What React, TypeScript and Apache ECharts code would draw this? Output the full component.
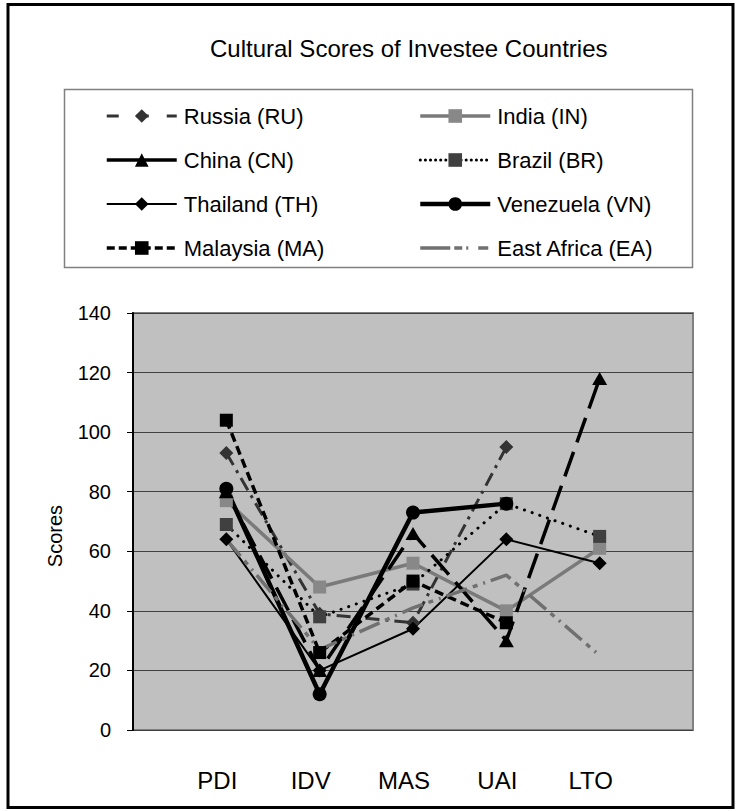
import React, { useEffect, useRef } from "react";
import * as echarts from "echarts";

const categories = ["PDI", "IDV", "MAS", "UAI", "LTO"];
const yMin = 0;
const yMax = 140;
const yStep = 20;

const russia = [93, 39, 36, 95, null];
const india = [77, 48, 56, 40, 61];
const china = [80, 20, 66, 30, 118];
const brazil = [69, 38, 49, 76, 65];
const thailand = [64, 20, 34, 64, 56];
const venezuela = [81, 12, 73, 76, null];
const malaysia = [104, 26, 50, 36, null];
const eastAfrica = [64, 27, 41, 52, 25];

const FONT = "'Liberation Sans', Arial, sans-serif";

function toPoints(vals: (number | null)[]) {
  const out: [number, number][] = [];
  vals.forEach((v, i) => {
    if (v !== null && v !== undefined) out.push([i + 1, v]);
  });
  return out;
}

type Sty = {
  name: string;
  data: (number | null)[];
  color: string;
  markerColor: string;
  width: number;
  type: any;
  legendType?: any;
  symbol: string;
  size: any;
  cap?: string;
};

const seriesDefs: Sty[] = [
  { name: "Russia (RU)", data: russia, color: "#333333", markerColor: "#333333", width: 3, type: [14, 6, 3, 6], legendType: [12, 18], symbol: "diamond", size: 14 },
  { name: "India (IN)", data: india, color: "#7a7a7a", markerColor: "#888888", width: 3.5, type: "solid", symbol: "rect", size: 13 },
  { name: "China (CN)", data: china, color: "#000000", markerColor: "#000000", width: 3.5, type: [26, 10], legendType: "solid", symbol: "triangle", size: [15, 13] },
  { name: "Brazil (BR)", data: brazil, color: "#000000", markerColor: "#404040", width: 3, type: [0.1, 8], legendType: [0.1, 5], symbol: "rect", size: 13, cap: "round" },
  { name: "Thailand (TH)", data: thailand, color: "#000000", markerColor: "#000000", width: 2, type: "solid", symbol: "diamond", size: 14 },
  { name: "Venezuela (VN)", data: venezuela, color: "#000000", markerColor: "#000000", width: 4.5, type: "solid", symbol: "circle", size: 14 },
  { name: "Malaysia (MA)", data: malaysia, color: "#000000", markerColor: "#000000", width: 3.5, type: [9, 5], legendType: [8, 4], symbol: "rect", size: 13 },
  { name: "East Africa (EA)", data: eastAfrica, color: "#707070", markerColor: "#707070", width: 3.5, type: [22, 6, 5, 6, 2, 6], legendType: [30, 4, 8, 4, 2, 10, 10], symbol: "none", size: 0 },
];

export default function App() {
  const ref = useRef<HTMLDivElement>(null);

  useEffect(() => {
    if (!ref.current) return;
    const chart = echarts.init(ref.current, null, { renderer: "svg" });

    const series = seriesDefs.map((s) => ({
      name: s.name,
      type: "line",
      data: toPoints(s.data),
      color: s.markerColor,
      symbol: s.symbol,
      symbolSize: s.size,
      showSymbol: s.symbol !== "none",
      lineStyle: { color: s.color, width: s.width, type: s.type, cap: s.cap || "butt" },
      itemStyle: { color: s.markerColor, borderWidth: 0 },
      emphasis: { disabled: true },
      silent: true,
      animation: false,
    }));

    const legendItem = (i: number) => {
      const s = seriesDefs[i];
      const item: any = {
        name: s.name,
        lineStyle: {
          color: s.color,
          width: s.width,
          type: s.legendType ?? s.type,
          cap: s.cap || "butt",
        },
      };
      if (s.symbol === "none") {
        item.itemStyle = { color: "rgba(0,0,0,0)", borderWidth: 0 };
      }
      return item;
    };

    const legendCommon = {
      orient: "vertical",
      itemWidth: 70,
      itemHeight: 17,
      itemGap: 22,
      padding: 0,
      selectedMode: false,
      textStyle: { fontSize: 22, fontFamily: FONT, color: "#000", lineHeight: 22, padding: [0, 0, 0, 2] },
    };

    chart.setOption({
      animation: false,
      backgroundColor: "#ffffff",
      title: {
        text: "Cultural Scores of Investee Countries",
        left: 210,
        top: 36,
        padding: 0,
        textStyle: { fontSize: 24, fontWeight: "normal", fontFamily: FONT, color: "#000" },
      },
      legend: [
        { ...legendCommon, left: 105, top: 105, data: [0, 2, 4, 6].map(legendItem) },
        { ...legendCommon, left: 418, top: 105, data: [1, 3, 5, 7].map(legendItem) },
      ],
      grid: {
        left: 133,
        top: 313,
        width: 560,
        height: 417,
        show: true,
        backgroundColor: "#c0c0c0",
        borderColor: "#808080",
        borderWidth: 2,
      },
      xAxis: {
        type: "value",
        min: 0,
        max: categories.length + 1,
        interval: 1,
        axisLine: { show: false },
        axisTick: { show: false },
        splitLine: { show: false },
        axisLabel: {
          fontSize: 24,
          fontFamily: FONT,
          color: "#000",
          margin: 38,
          padding: [0, 18, 0, 0],
          formatter: (v: number) => categories[v - 1] ?? "",
        },
      },
      yAxis: {
        type: "value",
        min: yMin,
        max: yMax,
        interval: yStep,
        axisLine: { show: true, lineStyle: { color: "#000", width: 2 } },
        axisTick: { show: true, inside: false, length: 6, lineStyle: { color: "#000", width: 1 } },
        splitLine: { show: true, lineStyle: { color: "#404040", width: 1 } },
        axisLabel: { fontSize: 20, fontFamily: FONT, color: "#000", margin: 22 },
      },
      graphic: [
        {
          type: "rect",
          shape: { x: 8, y: 4.5, width: 725, height: 803 },
          style: { fill: "none", stroke: "#000", lineWidth: 3 },
          silent: true,
        },
        {
          type: "rect",
          shape: { x: 64.5, y: 89.5, width: 628, height: 178 },
          style: { fill: "none", stroke: "#808080", lineWidth: 1.5 },
          silent: true,
        },
        {
          type: "text",
          x: 55,
          y: 536,
          rotation: Math.PI / 2,
          style: { text: "Scores", fontSize: 20, fontFamily: FONT, fill: "#000", align: "center", verticalAlign: "middle" },
          silent: true,
        },
      ],
      series,
    });

    return () => chart.dispose();
  }, []);

  return (
    <div
      ref={ref}
      style={{ position: "fixed", left: 0, top: 0, width: 738, height: 811 }}
    />
  );
}
